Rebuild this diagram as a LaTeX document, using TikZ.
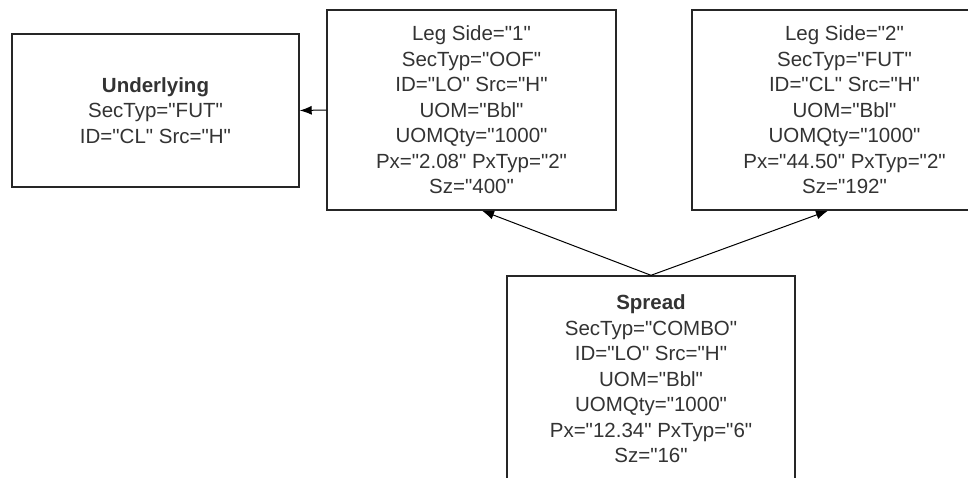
\documentclass[tikz,border=0pt]{standalone}
\usepackage{fontspec}
\setmainfont{Liberation Sans}[Ligatures=TeXOff]
\usetikzlibrary{arrows.meta}
\begin{document}
\begin{tikzpicture}[x=1pt,y=-1pt,
    boite/.style={draw=black!85,line width=1.4pt,minimum height=200pt,align=center,
      inner sep=0pt,text=black!80,font=\fontsize{20.5}{25.5}\selectfont},
    fleche/.style={-{Latex[length=12pt,width=9pt]},line width=1pt}]
    \useasboundingbox (0,0) rectangle (968,477);
    \clip (0,0) rectangle (968,477);

    % Boites du haut
    \node[boite,minimum width=287pt,minimum height=153pt] (under) at (155.5,110.5)
        {\textbf{Underlying}\\SecTyp="FUT"\\ID="CL" Src="H"};
    \node[boite,minimum width=289pt] (leg1) at (471.5,110)
        {Leg Side="1"\\SecTyp="OOF"\\ID="LO" Src="H"\\UOM="Bbl"\\UOMQty="1000"\\Px="2.08" PxTyp="2"\\Sz="400"};
    \node[boite,minimum width=305pt] (leg2) at (844.5,110)
        {Leg Side="2"\\SecTyp="FUT"\\ID="CL" Src="H"\\UOM="Bbl"\\UOMQty="1000"\\Px="44.50" PxTyp="2"\\Sz="192"};

    % Boite du bas (coupee en bas)
    \node[boite,minimum width=288pt,minimum height=206pt] (spread) at (651,379)
        {\textbf{Spread}\\SecTyp="COMBO"\\ID="LO" Src="H"\\UOM="Bbl"\\UOMQty="1000"\\Px="12.34" PxTyp="6"\\Sz="16"};

    % Fleches
    \draw[fleche] (leg1.west) -- (under.east);
    \draw[fleche] (spread.north) -- ([xshift=10.5pt]leg1.south);
    \draw[fleche] (spread.north) -- ([xshift=-16.5pt]leg2.south);
\end{tikzpicture}
\end{document}
